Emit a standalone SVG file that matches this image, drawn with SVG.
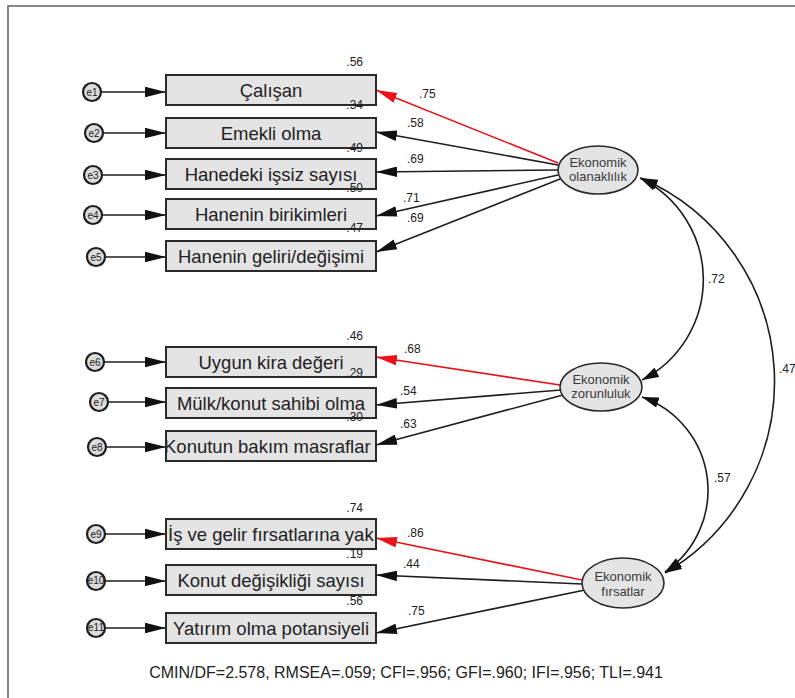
<svg xmlns="http://www.w3.org/2000/svg" width="795" height="698" viewBox="0 0 795 698">
  <style>
    .frame { fill: #ffffff; stroke: #6a6a6a; stroke-width: 1.6; }
    .obs rect { fill: #e4e4e4; stroke: #2a2a2a; stroke-width: 2; }
    .obs text { font-family: "Liberation Sans", Arial, sans-serif; font-size: 18.5px; fill: #222; text-anchor: middle; }
    .err circle { fill: #dcdcdc; stroke: #1e1e1e; stroke-width: 2.2; }
    .err text { font-family: "Liberation Sans", Arial, sans-serif; font-size: 10px; fill: #222; text-anchor: middle; }
    .lat ellipse { fill: #e4e4e4; stroke: #2a2a2a; stroke-width: 1.6; }
    .lat text { font-family: "Liberation Sans", Arial, sans-serif; font-size: 13px; fill: #3a3a3a; text-anchor: middle; }
    .path { fill: none; stroke: #1e1e1e; stroke-width: 1.6; marker-end: url(#ah); }
    .path.red { stroke: #e8141a; marker-end: url(#ahr); }
    .cov { fill: none; stroke: #1e1e1e; stroke-width: 1.6; marker-start: url(#ahc); marker-end: url(#ahc); }
    .num { font-family: "Liberation Sans", Arial, sans-serif; font-size: 12px; fill: #222; }
    .r2 { text-anchor: end; }
    .fit { font-family: "Liberation Sans", Arial, sans-serif; font-size: 16px; fill: #222; text-anchor: middle; }
  </style>
  <defs>
    <marker id="ah" viewBox="0 0 20 10" refX="20" refY="5" markerWidth="21" markerHeight="10.5" markerUnits="userSpaceOnUse" orient="auto">
      <path d="M0,0 L20,5 L0,10 z" fill="#111"/>
    </marker>
    <marker id="ahr" viewBox="0 0 20 10" refX="20" refY="5" markerWidth="21" markerHeight="10.5" markerUnits="userSpaceOnUse" orient="auto">
      <path d="M0,0 L20,5 L0,10 z" fill="#e8141a"/>
    </marker>
    <marker id="ahc" viewBox="0 0 16 10" refX="16" refY="5" markerWidth="17" markerHeight="10.5" markerUnits="userSpaceOnUse" orient="auto-start-reverse">
      <path d="M0,0 L16,5 L0,10 z" fill="#111"/>
    </marker>
    <clipPath id="clip8"><rect x="166" y="431" width="210" height="30"/></clipPath>
    <clipPath id="clip9"><rect x="166" y="519" width="210" height="30"/></clipPath>
  </defs>

  <!-- outer frame (runs past the right and bottom edges) -->
  <rect class="frame" x="8" y="6" width="820" height="720"/>

  <!-- connectors -->
  <g id="connectors">
    <!-- error terms to indicators -->
    <line class="path" x1="101" y1="92" x2="166" y2="92"/>
    <line class="path" x1="103" y1="133" x2="166" y2="133"/>
    <line class="path" x1="102" y1="175" x2="166" y2="175"/>
    <line class="path" x1="102" y1="215" x2="166" y2="215"/>
    <line class="path" x1="105" y1="257" x2="166" y2="257"/>
    <line class="path" x1="104" y1="362" x2="166" y2="362"/>
    <line class="path" x1="108" y1="402" x2="166" y2="402"/>
    <line class="path" x1="106" y1="447" x2="166" y2="447"/>
    <line class="path" x1="105" y1="534" x2="166" y2="534"/>
    <line class="path" x1="105" y1="581" x2="166" y2="581"/>
    <line class="path" x1="105" y1="628" x2="166" y2="628"/>

    <!-- Ekonomik olanaklılık loadings -->
    <line class="path red" x1="558" y1="163" x2="376" y2="90"/>
    <line class="path" x1="558" y1="165" x2="376" y2="132"/>
    <line class="path" x1="558" y1="170" x2="376" y2="172"/>
    <line class="path" x1="558" y1="175" x2="376" y2="216"/>
    <line class="path" x1="560" y1="179" x2="376" y2="252"/>

    <!-- Ekonomik zorunluluk loadings -->
    <line class="path red" x1="560" y1="385" x2="376" y2="357"/>
    <line class="path" x1="561" y1="390" x2="376" y2="405"/>
    <line class="path" x1="563" y1="395" x2="376" y2="445"/>

    <!-- Ekonomik fırsatlar loadings -->
    <line class="path red" x1="582" y1="580" x2="376" y2="538"/>
    <line class="path" x1="582" y1="584" x2="376" y2="575"/>
    <line class="path" x1="585" y1="590" x2="376" y2="633"/>

    <!-- covariances between latent factors -->
    <path class="cov" d="M640,178 A113,113 0 0 1 642,380"/>
    <path class="cov" d="M642,397 A99,99 0 0 1 665,572"/>
    <path class="cov" d="M641,178 A222,222 0 0 1 665,573"/>
  </g>

  <!-- path coefficients -->
  <g id="loadings" class="num">
    <text x="419" y="98">.75</text>
    <text x="407" y="127">.58</text>
    <text x="407" y="163">.69</text>
    <text x="403" y="202">.71</text>
    <text x="407" y="222">.69</text>
    <text x="404" y="353">.68</text>
    <text x="400" y="395">.54</text>
    <text x="400" y="428">.63</text>
    <text x="407" y="537">.86</text>
    <text x="403" y="568">.44</text>
    <text x="408" y="615">.75</text>
    <text x="708" y="283">.72</text>
    <text x="714" y="482">.57</text>
    <text x="779" y="373">.47</text>
  </g>

  <!-- error terms -->
  <g id="e1" class="err"><circle cx="92" cy="92" r="9"/><text x="92" y="95.5">e1</text></g>
  <g id="e2" class="err"><circle cx="94" cy="133" r="9"/><text x="94" y="136.5">e2</text></g>
  <g id="e3" class="err"><circle cx="93" cy="175" r="9"/><text x="93" y="178.5">e3</text></g>
  <g id="e4" class="err"><circle cx="93" cy="215" r="9"/><text x="93" y="218.5">e4</text></g>
  <g id="e5" class="err"><circle cx="96" cy="257" r="9"/><text x="96" y="260.5">e5</text></g>
  <g id="e6" class="err"><circle cx="95" cy="362" r="9"/><text x="95" y="365.5">e6</text></g>
  <g id="e7" class="err"><circle cx="99" cy="402" r="9"/><text x="99" y="405.5">e7</text></g>
  <g id="e8" class="err"><circle cx="97" cy="447" r="9"/><text x="97" y="450.5">e8</text></g>
  <g id="e9" class="err"><circle cx="96" cy="534" r="9"/><text x="96" y="537.5">e9</text></g>
  <g id="e10" class="err"><circle cx="96" cy="581" r="9"/><text x="96" y="584" font-size="8.5">e10</text></g>
  <g id="e11" class="err"><circle cx="96" cy="628" r="9"/><text x="96" y="631" font-size="8.5">e11</text></g>

  <!-- observed indicators -->
  <g id="calisan" class="obs"><rect x="166" y="75" width="210" height="30"/><text x="271" y="96.5">Çalışan</text></g>
  <g id="emekli" class="obs"><rect x="166" y="118" width="210" height="30"/><text x="271" y="139.5">Emekli olma</text></g>
  <g id="issiz" class="obs"><rect x="166" y="159" width="210" height="30"/><text x="271" y="180.5">Hanedeki işsiz sayısı</text></g>
  <g id="birikim" class="obs"><rect x="166" y="199" width="210" height="30"/><text x="271" y="220.5">Hanenin birikimleri</text></g>
  <g id="gelir" class="obs"><rect x="166" y="241" width="210" height="30"/><text x="271" y="262.5">Hanenin geliri/değişimi</text></g>
  <g id="kira" class="obs"><rect x="166" y="347" width="210" height="30"/><text x="271" y="368.5">Uygun kira değeri</text></g>
  <g id="mulk" class="obs"><rect x="166" y="388" width="210" height="30"/><text x="271" y="409.5">Mülk/konut sahibi olma</text></g>
  <g id="bakim" class="obs"><rect x="166" y="431" width="210" height="30"/><text x="164" y="452.5" clip-path="url(#clip8)" style="text-anchor:start">Konutun bakım masraflar</text><rect x="166" y="431" width="210" height="30" style="fill:none"/></g>
  <g id="firsat" class="obs"><rect x="166" y="519" width="210" height="30"/><text x="168" y="540.5" clip-path="url(#clip9)" style="text-anchor:start">İş ve gelir fırsatlarına yak</text><rect x="166" y="519" width="210" height="30" style="fill:none"/></g>
  <g id="konut" class="obs"><rect x="166" y="565" width="210" height="30"/><text x="271" y="586.5">Konut değişikliği sayısı</text></g>
  <g id="yatirim" class="obs"><rect x="166" y="613" width="210" height="30"/><text x="271" y="634.5">Yatırım olma potansiyeli</text></g>

  <!-- squared multiple correlations -->
  <g id="r2" class="num r2">
    <text x="363" y="66">.56</text>
    <text x="363" y="109">.34</text>
    <text x="363" y="152">.49</text>
    <text x="363" y="192">.50</text>
    <text x="363" y="232">.47</text>
    <text x="363" y="340">.46</text>
    <text x="363" y="377">.29</text>
    <text x="363" y="421">.30</text>
    <text x="363" y="512">.74</text>
    <text x="363" y="558">.19</text>
    <text x="363" y="605">.56</text>
  </g>

  <!-- latent factors -->
  <g id="olanaklilik" class="lat"><ellipse cx="598" cy="170" rx="40" ry="24"/><text x="598" y="167">Ekonomik</text><text x="598" y="181">olanaklılık</text></g>
  <g id="zorunluluk" class="lat"><ellipse cx="601" cy="387" rx="41" ry="24"/><text x="601" y="384">Ekonomik</text><text x="601" y="398">zorunluluk</text></g>
  <g id="firsatlar" class="lat"><ellipse cx="623" cy="583" rx="41" ry="25"/><text x="623" y="581">Ekonomik</text><text x="623" y="596">fırsatlar</text></g>

  <!-- model fit indices -->
  <text class="fit" x="406" y="678">CMIN/DF=2.578, RMSEA=.059; CFI=.956; GFI=.960; IFI=.956; TLI=.941</text>
</svg>
